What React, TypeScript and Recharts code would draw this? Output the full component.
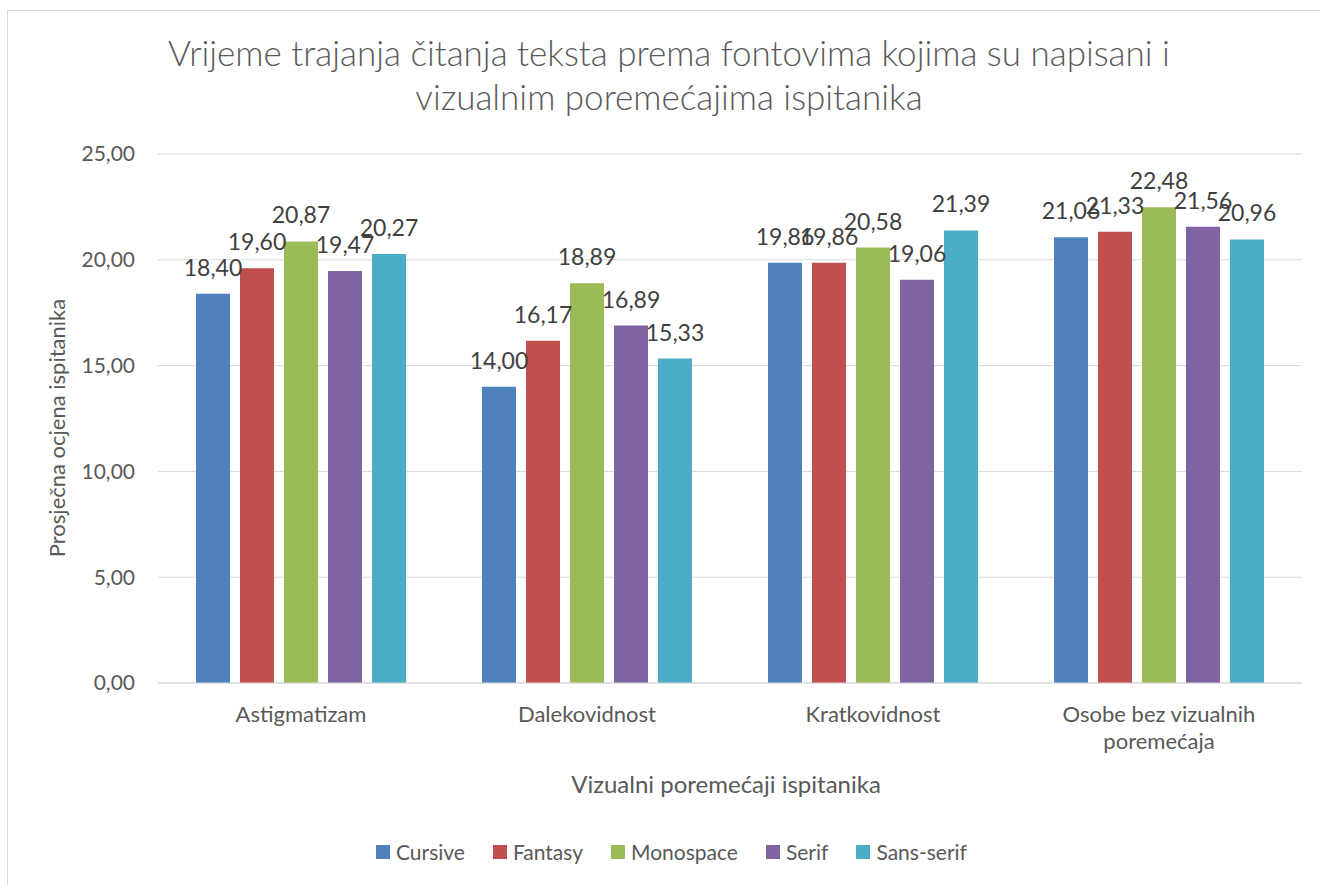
import { BarChart, Bar, XAxis, YAxis, CartesianGrid, LabelList } from "recharts";

const categories = [
  "Astigmatizam",
  "Dalekovidnost",
  "Kratkovidnost",
  "Osobe bez vizualnih poremećaja",
];
const cursive = [18.4, 14.0, 19.86, 21.06];
const fantasy = [19.6, 16.17, 19.86, 21.33];
const monospace = [20.87, 18.89, 20.58, 22.48];
const serif = [19.47, 16.89, 19.06, 21.56];
const sansSerif = [20.27, 15.33, 21.39, 20.96];
const yTicks = [0, 5, 10, 15, 20, 25];

const seriesNames = ["Cursive", "Fantasy", "Monospace", "Serif", "Sans-serif"];
const seriesKeys = ["cursive", "fantasy", "monospace", "serif", "sansSerif"];
const colors = ["#4F81BD", "#C0504D", "#9BBB59", "#8064A2", "#4BACC6"];

const data = categories.map((name, i) => ({
  name,
  cursive: cursive[i],
  fantasy: fantasy[i],
  monospace: monospace[i],
  serif: serif[i],
  sansSerif: sansSerif[i],
}));

const FONT = "Lato, 'Open Sans', sans-serif";
const fmt = (v: number) => v.toFixed(2).replace(".", ",");

// long category names get split on two lines like Excel does
const XTick = (props: any) => {
  const { x, y, payload } = props;
  const lines =
    payload.value === "Osobe bez vizualnih poremećaja"
      ? ["Osobe bez vizualnih", "poremećaja"]
      : [payload.value];
  return (
    <text x={x} y={y} textAnchor="middle" fill="#595959" fontSize={22} fontFamily={FONT}>
      {lines.map((l, i) => (
        <tspan key={i} x={x} dy={i === 0 ? 39 : 27}>
          {l}
        </tspan>
      ))}
    </text>
  );
};

export default function App() {
  return (
    <div
      style={{
        position: "absolute",
        left: 0,
        top: 0,
        width: 1320,
        height: 885,
        overflow: "hidden",
        background: "#fff",
        fontFamily: FONT,
      }}
    >
      {/* chart frame, cut off at the right and bottom */}
      <div
        style={{
          position: "absolute",
          left: 7,
          top: 10,
          width: 1340,
          height: 900,
          border: "1px solid #D9D9D9",
        }}
      />

      {/* Title */}
      <div
        style={{
          position: "absolute",
          left: 0,
          top: 30,
          width: 1338,
          textAlign: "center",
          fontSize: 35,
          fontWeight: 300,
          lineHeight: "44px",
          color: "#595959",
        }}
      >
        Vrijeme trajanja čitanja teksta prema fontovima kojima su napisani i
        <br />
        vizualnim poremećajima ispitanika
      </div>

      <div style={{ position: "absolute", left: 0, top: 0 }}>
        <BarChart
          width={1320}
          height={885}
          data={data}
          margin={{ top: 154, right: 18, bottom: 142, left: 0 }}
          barSize={34}
          barGap={10}
        >
          <CartesianGrid vertical={false} stroke="#D9D9D9" />
          <XAxis
            dataKey="name"
            height={60}
            tick={<XTick />}
            tickLine={false}
            tickSize={0}
            tickMargin={0}
            axisLine={{ stroke: "#D9D9D9" }}
            interval={0}
          />
          <YAxis
            width={158}
            domain={[0, 25]}
            ticks={yTicks}
            tickFormatter={fmt}
            tickLine={false}
            axisLine={false}
            tickSize={0}
            tickMargin={23}
            tick={{ fill: "#595959", fontSize: 21, fontFamily: FONT }}
          />
          {seriesKeys.map((k, i) => (
            <Bar key={k} dataKey={k} name={seriesNames[i]} fill={colors[i]} isAnimationActive={false}>
              <LabelList
                dataKey={k}
                position="top"
                offset={18}
                formatter={(v: any) => fmt(Number(v))}
                fill="#404040"
                fontSize={23}
                fontFamily={FONT}
              />
            </Bar>
          ))}
        </BarChart>
      </div>

      {/* Y axis title */}
      <div
        style={{
          position: "absolute",
          left: 56,
          top: 428,
          transform: "translate(-50%, -50%) rotate(-90deg)",
          whiteSpace: "nowrap",
          fontSize: 22,
          color: "#595959",
        }}
      >
        Prosječna ocjena ispitanika
      </div>

      {/* X axis title */}
      <div
        style={{
          position: "absolute",
          left: 726,
          top: 783,
          transform: "translate(-50%, -50%)",
          whiteSpace: "nowrap",
          fontSize: 24,
          color: "#595959",
        }}
      >
        Vizualni poremećaji ispitanika
      </div>

      {/* Legend */}
      <div
        style={{
          position: "absolute",
          left: 376,
          top: 840,
          display: "flex",
          fontSize: 21,
          lineHeight: "24px",
          color: "#595959",
        }}
      >
        {seriesNames.map((n, i) => (
          <div key={n} style={{ display: "flex", alignItems: "center", marginRight: i < 4 ? 28 : 0 }}>
            <span
              style={{ width: 14, height: 14, background: colors[i], marginRight: 6, display: "inline-block" }}
            />
            <span>{n}</span>
          </div>
        ))}
      </div>
    </div>
  );
}
